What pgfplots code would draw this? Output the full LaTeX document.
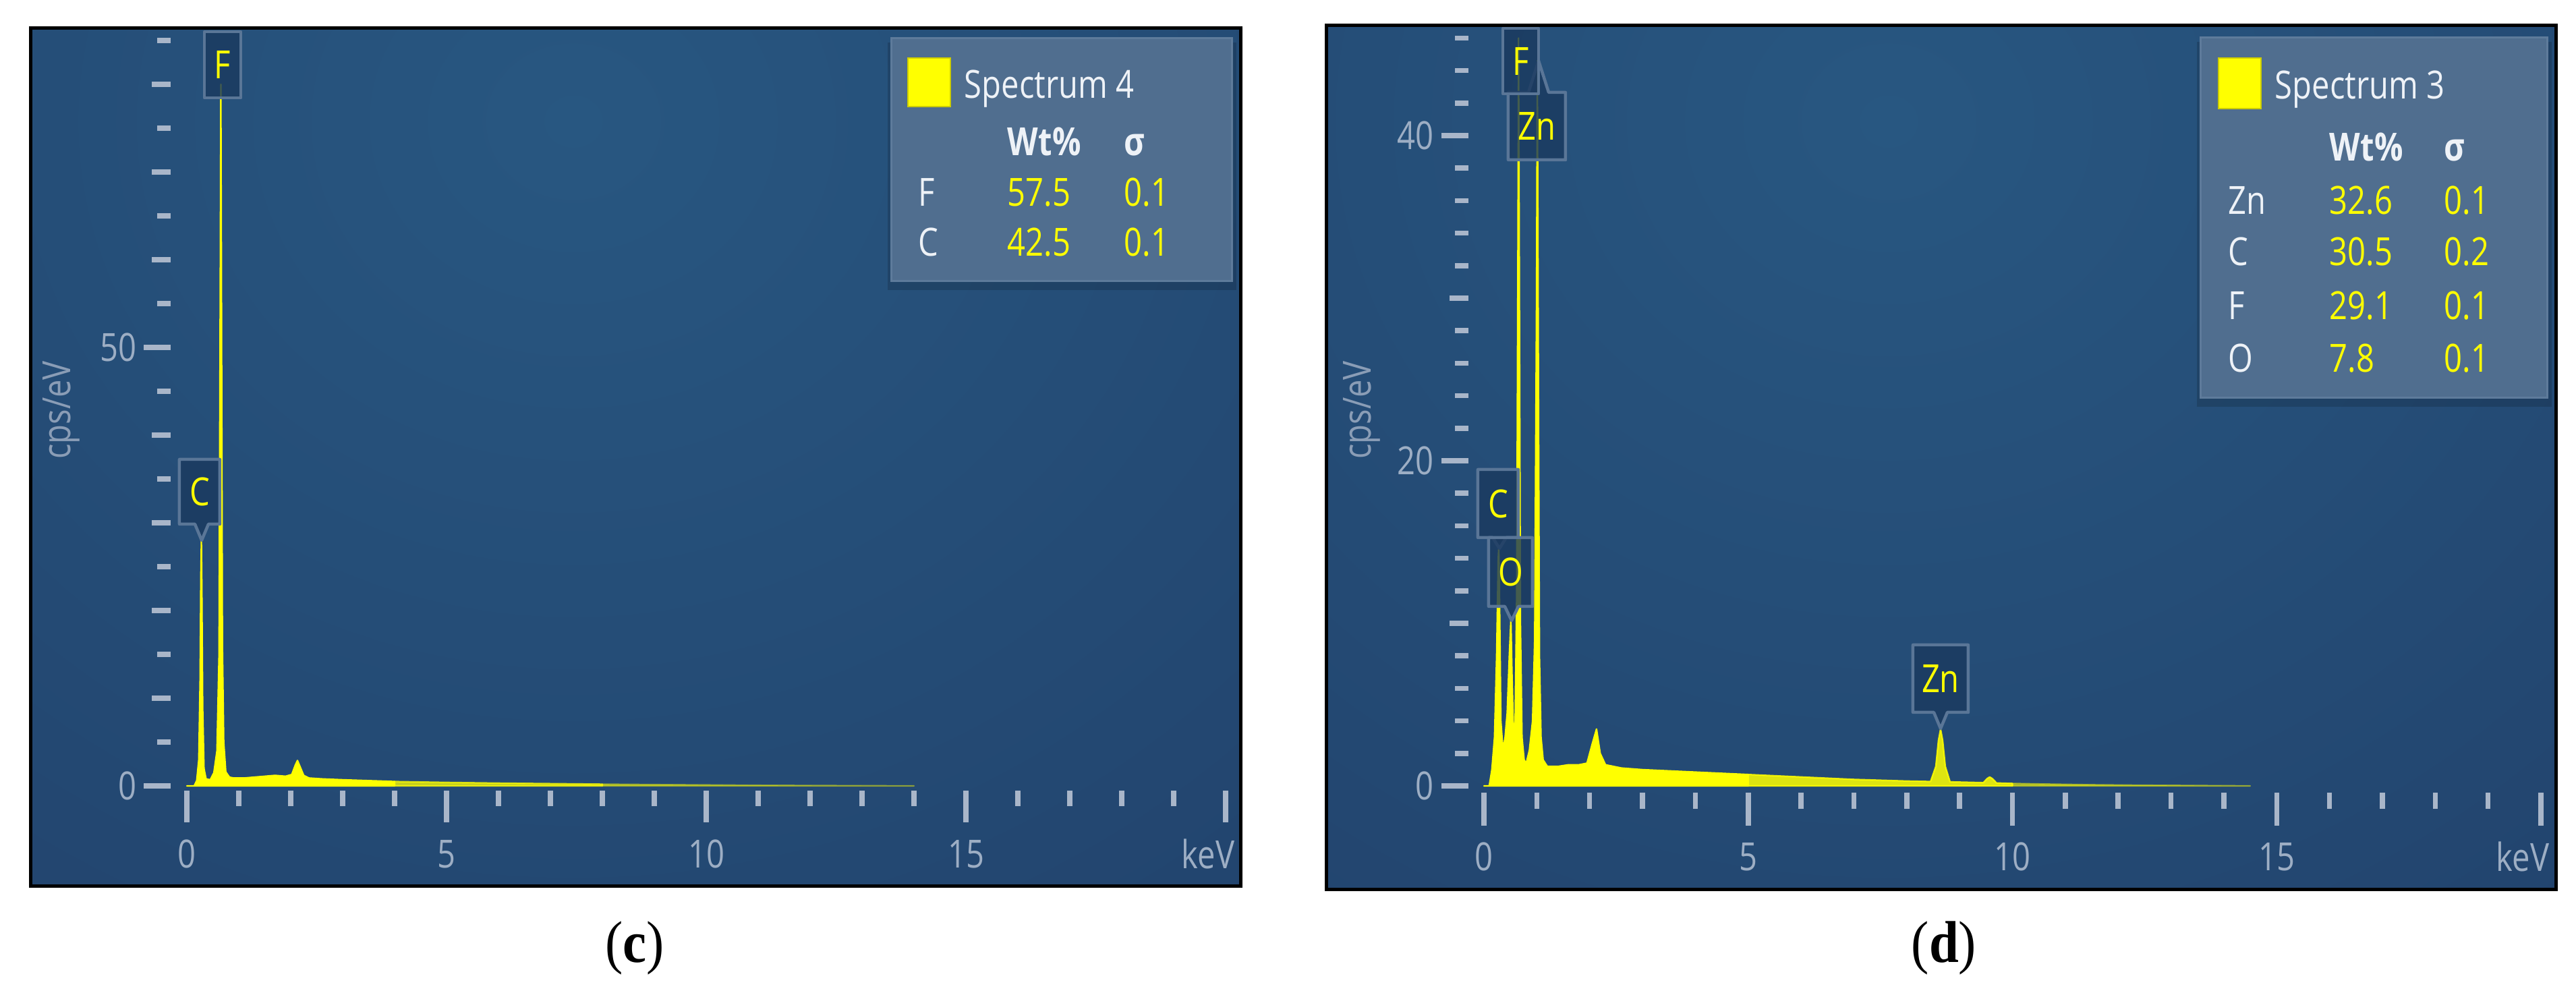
\documentclass[border=0pt]{standalone}
\usepackage{pgfplots}
\pgfplotsset{compat=1.18}
\usepackage{pgfplotstable}
\usepackage{fontspec}
\newfontfamily\uifont[FakeStretch=0.82]{Open Sans}
\newfontfamily\capfont[FakeStretch=0.9]{Liberation Serif}
\definecolor{bgbase}{HTML}{21416B}
\definecolor{bglight}{HTML}{285781}
\definecolor{tickcol}{HTML}{A9B6C9}
\definecolor{labcol}{HTML}{9DAEC4}
\definecolor{ylabcol}{HTML}{8A9DB6}
\definecolor{legfill}{HTML}{506E8F}
\definecolor{legedge}{HTML}{5E7B9B}
\definecolor{boxfill}{HTML}{1B3A5F}
\definecolor{boxedge}{HTML}{5A7697}
\definecolor{specyellow}{HTML}{FFFF00}
\definecolor{legwhite}{HTML}{EEF2F7}
\newcommand{\ui}{\uifont\fontsize{11.5}{13}\selectfont}

\pgfplotstableread{
x y
0.00 0
0.14 0
0.19 0.6
0.23 3
0.255 12
0.27 24
0.28 28
0.29 22
0.305 9
0.33 2
0.37 0.8
0.45 0.7
0.52 1.5
0.58 4
0.62 15
0.645 60
0.655 80
0.665 60
0.685 16
0.71 5
0.75 1.6
0.82 1.0
0.90 0.9
1.10 0.9
1.30 1.0
1.50 1.1
1.70 1.2
1.90 1.1
2.02 1.3
2.09 2.4
2.13 2.9
2.18 2.2
2.25 1.2
2.35 0.9
2.60 0.8
3.00 0.7
3.50 0.6
4.00 0.5
5.00 0.4
6.00 0.32
7.00 0.26
8.00 0.2
9.00 0.15
10.00 0.11
11.00 0.07
12.00 0.04
13.00 0.02
14.00 0
}\specC

\pgfplotstableread{
x y
0.00 0
0.10 0
0.15 1.0
0.20 3
0.24 8
0.27 14
0.28 14.6
0.29 13
0.32 4
0.36 2.2
0.40 3
0.44 4.5
0.48 8
0.51 10.2
0.53 7
0.56 3
0.59 4
0.62 12
0.645 35
0.655 46
0.665 36
0.69 10
0.72 3
0.76 1.6
0.80 1.4
0.86 2.2
0.92 4
0.96 9
0.995 30
1.01 44.6
1.025 30
1.05 8
1.08 3
1.12 1.6
1.20 1.2
1.40 1.2
1.60 1.3
1.80 1.3
1.95 1.4
2.05 2.6
2.13 3.5
2.20 2.0
2.30 1.3
2.60 1.1
3.00 1.0
4.00 0.85
5.00 0.7
6.00 0.55
7.00 0.4
8.00 0.3
8.45 0.27
8.55 1.2
8.60 2.8
8.64 3.5
8.68 2.8
8.73 1.2
8.82 0.25
9.45 0.2
9.52 0.45
9.57 0.55
9.62 0.45
9.70 0.18
10.00 0.15
10.50 0.12
11.50 0.07
12.50 0.04
13.50 0.02
14.50 0
}\specD

\tikzset{
  tk/.style={draw=tickcol, line width=1.5pt},
  pbox/.style={draw=boxedge, line width=0.9pt, fill=boxfill, fill opacity=0.82, line join=round},
  plab/.style={font=\ui, text=specyellow, inner sep=0pt},
  lw/.style={anchor=base west, inner sep=0pt, font=\ui, text=legwhite},
  ly/.style={anchor=base west, inner sep=0pt, font=\ui, text=specyellow},
}
\pgfplotsset{
  edsax/.style={
    scale only axis, anchor=south west,
    xmin=0, xmax=20, ymin=0,
    axis x line*=bottom, axis y line*=left,
    axis line style={draw=none},
    tick style={draw=none}, major tick length=0pt,
    xtick={0,5,10,15}, xticklabels={0,5,10,15},
    tick label style={font=\ui, text=labcol},
    yticklabel style={anchor=east, inner sep=0pt, xshift=-14.8pt},
    clip=false,
  },
  spec/.style={draw=specyellow, fill=specyellow, line width=0.45pt, line join=round},
}
% box with downward pointer (px coords): x1,y1,x2,y2,tipx,tipy,text
\newcommand{\pdown}[7]{%
  \filldraw[pbox] (#1,#2) -- (#3,#2) -- (#3,#4) -- (#5+10,#4) -- (#5,#6) -- (#5-10,#4) -- (#1,#4) -- cycle;
  \node[plab] at ({(#1+#3)/2},{(#2+#4)/2}) {#7};}
% box with upward pointer
\newcommand{\pup}[7]{%
  \filldraw[pbox] (#1,#2) -- (#5-15,#2) -- (#5,#6) -- (#5+15,#2) -- (#3,#2) -- (#3,#4) -- (#1,#4) -- cycle;
  \node[plab] at ({(#1+#3)/2},{(#2+#4)/2}) {#7};}
% plain box
\newcommand{\pplain}[5]{%
  \filldraw[pbox] (#1,#2) rectangle (#3,#4);
  \node[plab] at ({(#1+#3)/2},{(#2+#4)/2}) {#5};}

\begin{document}
\begin{tikzpicture}
\path[use as bounding box] (0pt,0pt) rectangle (763.8pt,-294.4pt);

% ---------- panel backgrounds ----------
\begin{scope}[x=0.2pt,y=-0.2pt]
  \begin{scope}
    \clip (46,42) rectangle (1840,1314);
    \fill[bgbase] (46,42) rectangle (1840,1314);
    \shade[inner color=bglight, outer color=bgbase] (850,180) ellipse (1900 and 1700);
  \end{scope}
  \begin{scope}
    \clip (1967,38) rectangle (3790,1319);
    \fill[bgbase] (1967,38) rectangle (3790,1319);
    \shade[inner color=bglight, outer color=bgbase] (2800,180) ellipse (1900 and 1700);
  \end{scope}
\end{scope}

% ---------- panel (c) ----------
\begin{axis}[edsax, at={(55.4pt,-233pt)}, width=308pt, height=224pt,
  ymax=86.15, ytick={0,50}, yticklabels={0,50},
  xticklabel style={anchor=center, yshift=-20.2pt}]
  \addplot[spec, restrict x to domain=0:4] table[x=x,y=y] {\specC} \closedcycle;
  \addplot[spec, opacity=0.75, restrict x to domain=4:8] table[x=x,y=y] {\specC} \closedcycle;
  \addplot[spec, opacity=0.45, restrict x to domain=8:20] table[x=x,y=y] {\specC} \closedcycle;
  \pgfplotsinvokeforeach{0,50}{\draw[tk] ([xshift=-4.8pt]axis cs:0,#1) -- ++(-8pt,0pt);}
  \pgfplotsinvokeforeach{10,20,30,40,60,70,80}{\draw[tk] ([xshift=-4.8pt]axis cs:0,#1) -- ++(-5.6pt,0pt);}
  \pgfplotsinvokeforeach{5,15,25,35,45,55,65,75,85}{\draw[tk] ([xshift=-4.8pt]axis cs:0,#1) -- ++(-4pt,0pt);}
  \pgfplotsinvokeforeach{0,5,10,15,20}{\draw[tk] ([yshift=-1.4pt]axis cs:#1,0) -- ++(0pt,-9.4pt);}
  \pgfplotsinvokeforeach{1,2,3,4,6,7,8,9,11,12,13,14,16,17,18,19}{\draw[tk] ([yshift=-1.4pt]axis cs:#1,0) -- ++(0pt,-4.6pt);}
  \node[font=\ui, text=labcol, anchor=center] at ([xshift=-5.2pt,yshift=-20.2pt]axis cs:20,0) {keV};
\end{axis}

% ---------- panel (d) ----------
\begin{axis}[edsax, at={(440pt,-233pt)}, width=313.4pt, height=225pt,
  ymax=46.68, ytick={0,20,40}, yticklabels={0,20,40},
  xticklabel style={anchor=center, yshift=-21pt}]
  \addplot[spec, restrict x to domain=0:5] table[x=x,y=y] {\specD} \closedcycle;
  \addplot[spec, opacity=0.85, restrict x to domain=5:10] table[x=x,y=y] {\specD} \closedcycle;
  \addplot[spec, opacity=0.5, restrict x to domain=10:20] table[x=x,y=y] {\specD} \closedcycle;
  \pgfplotsinvokeforeach{0,20,40}{\draw[tk] ([xshift=-4.6pt]axis cs:0,#1) -- ++(-8pt,0pt);}
  \pgfplotsinvokeforeach{10,30}{\draw[tk] ([xshift=-4.6pt]axis cs:0,#1) -- ++(-5.6pt,0pt);}
  \pgfplotsinvokeforeach{2,4,6,8,12,14,16,18,22,24,26,28,32,34,36,38,42,44,46}{\draw[tk] ([xshift=-4.6pt]axis cs:0,#1) -- ++(-4pt,0pt);}
  \pgfplotsinvokeforeach{0,5,10,15,20}{\draw[tk] ([yshift=-2pt]axis cs:#1,0) -- ++(0pt,-9.8pt);}
  \pgfplotsinvokeforeach{1,2,3,4,6,7,8,9,11,12,13,14,16,17,18,19}{\draw[tk] ([yshift=-2pt]axis cs:#1,0) -- ++(0pt,-4.8pt);}
  \node[font=\ui, text=labcol, anchor=center] at ([xshift=-5.4pt,yshift=-21pt]axis cs:20,0) {keV};
\end{axis}

% ---------- decorations (pixel coordinates) ----------
\begin{scope}[x=0.2pt,y=-0.2pt]
  % frames
  \draw[black, line width=1pt] (46,42) rectangle (1840,1314);
  \draw[black, line width=1pt] (1967,38) rectangle (3790,1319);

  % y labels
  \node[rotate=90, font=\ui, text=ylabcol] at (91,608) {cps/eV};
  \node[rotate=90, font=\ui, text=ylabcol] at (2019,608) {cps/eV};

  % peak labels (c)
  \pplain{303}{47}{357}{145}{F}
  \pdown{266}{681}{326}{777}{299}{801}{C}

  % peak labels (d)
  \pup{2236}{137}{2321}{237}{2281}{90}{Zn}
  \pplain{2228}{42}{2281}{139}{F}
  \pdown{2191}{696}{2251}{797}{2223}{813}{C}
  \pdown{2207}{797}{2272}{899}{2241}{920}{O}
  \pdown{2836}{956}{2918}{1056}{2877}{1080}{Zn}

  % legend (c)
  \fill[black, opacity=0.15] (1316,63) rectangle (1833,430);
  \fill[legfill] (1322,57) rectangle (1827,417);
  \draw[legedge, line width=0.6pt] (1322,57) rectangle (1827,417);
  \filldraw[fill=specyellow, draw=specyellow!80!black, line width=0.5pt] (1346,86) rectangle (1409,158);
  \node[lw] at (1429,145) {Spectrum 4};
  \node[lw, font=\ui\bfseries] at (1493,231) {Wt\%};
  \node[lw, font=\ui\bfseries] at (1666,231) {σ};
  \node[lw] at (1361,306) {F};
  \node[ly] at (1493,306) {57.5};
  \node[ly] at (1666,306) {0.1};
  \node[lw] at (1361,380) {C};
  \node[ly] at (1493,380) {42.5};
  \node[ly] at (1666,380) {0.1};

  % legend (d)
  \fill[black, opacity=0.15] (3257,62) rectangle (3783,603);
  \fill[legfill] (3263,56) rectangle (3777,590);
  \draw[legedge, line width=0.6pt] (3263,56) rectangle (3777,590);
  \filldraw[fill=specyellow, draw=specyellow!80!black, line width=0.5pt] (3289,86) rectangle (3352,161);
  \node[lw] at (3372,147) {Spectrum 3};
  \node[lw, font=\ui\bfseries] at (3453,239) {Wt\%};
  \node[lw, font=\ui\bfseries] at (3623,239) {σ};
  \node[lw] at (3303,318) {Zn};
  \node[ly] at (3453,318) {32.6};
  \node[ly] at (3623,318) {0.1};
  \node[lw] at (3303,394) {C};
  \node[ly] at (3453,394) {30.5};
  \node[ly] at (3623,394) {0.2};
  \node[lw] at (3303,474) {F};
  \node[ly] at (3453,474) {29.1};
  \node[ly] at (3623,474) {0.1};
  \node[lw] at (3303,552) {O};
  \node[ly] at (3453,552) {7.8};
  \node[ly] at (3623,552) {0.1};

  % captions
  \node[font=\capfont\fontsize{17.5}{20}\selectfont, text=black] at (941,1405) {(\textbf{c})};
  \node[font=\capfont\fontsize{17.5}{20}\selectfont, text=black] at (2882,1405) {(\textbf{d})};
\end{scope}
\end{tikzpicture}
\end{document}
